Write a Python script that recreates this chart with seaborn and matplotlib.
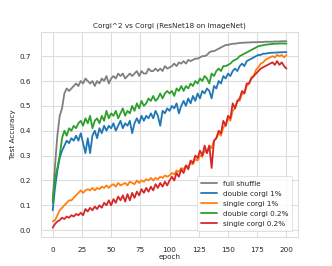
import numpy as np
import pandas as pd
import matplotlib
matplotlib.use("Agg")
import matplotlib.pyplot as plt
import seaborn as sns

# =============================================================================
# DATOS (cada 2 epocas)
# =============================================================================
epochs = list(range(0, 201, 2))

full_shuffle = [
    0.12, 0.26, 0.38, 0.46, 0.49, 0.55, 0.57, 0.56, 0.57, 0.58,
    0.59, 0.58, 0.60, 0.59, 0.61, 0.60, 0.59, 0.60, 0.58, 0.60,
    0.59, 0.61, 0.60, 0.62, 0.59, 0.61, 0.62, 0.61, 0.63, 0.62,
    0.63, 0.61, 0.62, 0.63, 0.62, 0.63, 0.64, 0.62, 0.64, 0.63,
    0.63, 0.65, 0.64, 0.64, 0.65, 0.64, 0.65, 0.64, 0.66, 0.65,
    0.655, 0.66, 0.67, 0.66, 0.675, 0.67, 0.68, 0.67, 0.685, 0.68,
    0.685, 0.69, 0.69, 0.695, 0.70, 0.70, 0.705, 0.715, 0.72, 0.72,
    0.725, 0.73, 0.735, 0.74, 0.745, 0.745, 0.748, 0.75, 0.75, 0.752,
    0.753, 0.754, 0.754, 0.755, 0.755, 0.756, 0.756, 0.756, 0.757, 0.757,
    0.757, 0.758, 0.758, 0.758, 0.758, 0.759, 0.759, 0.759, 0.76, 0.76,
    0.76,
]

double_corgi_1 = [
    0.08, 0.17, 0.24, 0.29, 0.32, 0.34, 0.36, 0.35, 0.37, 0.36,
    0.38, 0.36, 0.39, 0.35, 0.31, 0.37, 0.31, 0.38, 0.40, 0.37,
    0.41, 0.39, 0.42, 0.40, 0.42, 0.41, 0.43, 0.40, 0.42, 0.44,
    0.41, 0.43, 0.42, 0.44, 0.39, 0.43, 0.45, 0.43, 0.46, 0.44,
    0.46, 0.45, 0.47, 0.45, 0.48, 0.46, 0.42, 0.48, 0.47, 0.49,
    0.48, 0.50, 0.49, 0.51, 0.47, 0.50, 0.52, 0.50, 0.53, 0.51,
    0.54, 0.52, 0.55, 0.53, 0.56, 0.55, 0.57, 0.56, 0.53, 0.58,
    0.57, 0.60, 0.59, 0.62, 0.61, 0.63, 0.62, 0.64, 0.65, 0.64,
    0.66, 0.67, 0.66, 0.68, 0.685, 0.69, 0.695, 0.70, 0.705, 0.705,
    0.71, 0.71, 0.712, 0.713, 0.714, 0.714, 0.715, 0.715, 0.716, 0.716,
    0.716,
]

single_corgi_1 = [
    0.035, 0.04, 0.06, 0.08, 0.09, 0.10, 0.11, 0.12, 0.12, 0.13,
    0.14, 0.15, 0.16, 0.15, 0.16, 0.165, 0.16, 0.17, 0.16, 0.17,
    0.165, 0.175, 0.17, 0.18, 0.17, 0.18, 0.185, 0.175, 0.19, 0.18,
    0.185, 0.19, 0.18, 0.195, 0.19, 0.185, 0.20, 0.19, 0.20, 0.195,
    0.205, 0.20, 0.21, 0.20, 0.21, 0.205, 0.215, 0.21, 0.22, 0.215,
    0.22, 0.23, 0.225, 0.24, 0.235, 0.25, 0.245, 0.26, 0.255, 0.27,
    0.265, 0.285, 0.28, 0.30, 0.295, 0.32, 0.31, 0.34, 0.33, 0.36,
    0.37, 0.39, 0.38, 0.415, 0.42, 0.45, 0.44, 0.48, 0.49, 0.52,
    0.52, 0.55, 0.55, 0.58, 0.59, 0.615, 0.62, 0.645, 0.655, 0.67,
    0.675, 0.685, 0.69, 0.695, 0.70, 0.695, 0.705, 0.70, 0.705, 0.695,
    0.705,
]

double_corgi_02 = [
    0.11, 0.21, 0.25, 0.30, 0.37, 0.40, 0.38, 0.41, 0.40, 0.42,
    0.41, 0.43, 0.44, 0.42, 0.45, 0.43, 0.46, 0.41, 0.44, 0.45,
    0.43, 0.46, 0.44, 0.48, 0.45, 0.47, 0.46, 0.48, 0.45, 0.47,
    0.49, 0.46, 0.48, 0.47, 0.50, 0.48, 0.51, 0.49, 0.52, 0.50,
    0.51, 0.53, 0.52, 0.54, 0.52, 0.53, 0.55, 0.53, 0.55, 0.56,
    0.55, 0.56, 0.54, 0.57, 0.56, 0.58, 0.56, 0.58, 0.57, 0.59,
    0.58, 0.60, 0.59, 0.61, 0.60, 0.62, 0.61, 0.59, 0.63, 0.62,
    0.64, 0.65, 0.64, 0.66, 0.66, 0.665, 0.67, 0.68, 0.685, 0.69,
    0.70, 0.705, 0.71, 0.715, 0.72, 0.725, 0.73, 0.735, 0.74, 0.742,
    0.744, 0.746, 0.747, 0.748, 0.749, 0.75, 0.75, 0.751, 0.751, 0.751,
    0.75,
]

single_corgi_02 = [
    0.01, 0.025, 0.035, 0.04, 0.05, 0.045, 0.055, 0.05, 0.06, 0.055,
    0.065, 0.06, 0.07, 0.06, 0.085, 0.075, 0.09, 0.08, 0.095, 0.085,
    0.10, 0.09, 0.11, 0.10, 0.12, 0.10, 0.125, 0.11, 0.135, 0.12,
    0.14, 0.115, 0.145, 0.12, 0.15, 0.13, 0.155, 0.14, 0.165, 0.15,
    0.17, 0.155, 0.175, 0.16, 0.185, 0.17, 0.19, 0.175, 0.195, 0.18,
    0.20, 0.215, 0.20, 0.23, 0.215, 0.245, 0.23, 0.26, 0.245, 0.28,
    0.27, 0.30, 0.29, 0.32, 0.30, 0.34, 0.31, 0.34, 0.25, 0.36,
    0.37, 0.40, 0.39, 0.44, 0.42, 0.46, 0.45, 0.51, 0.49, 0.52,
    0.53, 0.56, 0.55, 0.59, 0.59, 0.61, 0.62, 0.63, 0.64, 0.65,
    0.655, 0.66, 0.665, 0.67, 0.675, 0.665, 0.68, 0.665, 0.675, 0.66,
    0.65,
]

series_names = ["full shuffle", "double corgi 1%", "single corgi 1%",
                "double corgi 0.2%", "single corgi 0.2%"]
series_values = [full_shuffle, double_corgi_1, single_corgi_1,
                 double_corgi_02, single_corgi_02]
colors = ["#7f7f7f", "#1f77b4", "#ff7f0e", "#2ca02c", "#d62728"]

# tabla larga para seaborn
rows = []
for name, vals in zip(series_names, series_values):
    for e, v in zip(epochs, vals):
        rows.append({"epoch": e, "acc": v, "method": name})
df = pd.DataFrame(rows)

# =============================================================================
# GRAFICO
# =============================================================================
sns.set_style("whitegrid", {"grid.color": "#dddddd", "axes.edgecolor": "#dddddd"})
plt.rcParams["font.family"] = ["DejaVu Sans"]

fig = plt.figure(figsize=(3.32, 2.66), dpi=100)
ax = fig.add_axes([0.1235, 0.109, 0.7745, 0.771])

sns.lineplot(data=df, x="epoch", y="acc", hue="method", hue_order=series_names,
             palette=colors, linewidth=1.3, ax=ax)

ax.set_title("Corgi^2 vs Corgi (ResNet18 on ImageNet)", fontsize=5.2, pad=3)
ax.set_xlabel("epoch", fontsize=5.2, labelpad=1)
ax.set_ylabel("Test Accuracy", fontsize=5.2, labelpad=3)
ax.set_xticks([0, 25, 50, 75, 100, 125, 150, 175, 200])
ax.tick_params(labelsize=5.2, pad=3.5)
for s in ax.spines.values():
    s.set_linewidth(0.8)
ax.grid(linewidth=0.8)

leg = ax.legend(loc="lower right", fontsize=5.2, handlelength=2.2,
                borderpad=0.6, labelspacing=0.55, borderaxespad=0.8)
leg.get_frame().set_linewidth(0.5)
for line in leg.get_lines():
    line.set_linewidth(1.3)

fig.savefig("out.png", dpi=100)
